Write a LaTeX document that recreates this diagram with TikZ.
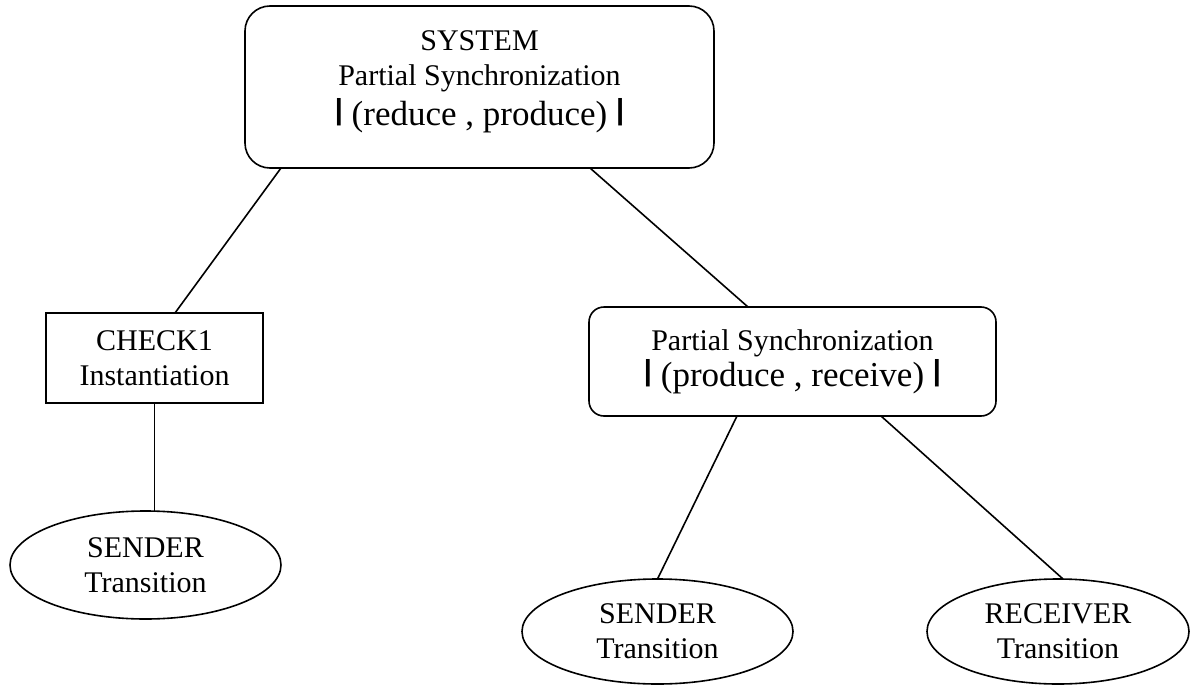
\documentclass[tikz,border=0pt]{standalone}
\usepackage{fontspec}
\setmainfont{Liberation Serif}
\newfontfamily\barfont{Liberation Sans}
\usetikzlibrary{shapes.geometric,calc}
\newcommand\mybar{\raisebox{6pt}{\barfont\bfseries\fontsize{29}{30}\selectfont|}}
\tikzset{
  base/.style={draw=black, line width=1.6pt, inner sep=0pt, outer sep=0pt, align=center,
    font=\fontsize{30}{35}\selectfont},
  rbox/.style={base, rectangle, rounded corners=#1},
  sqbox/.style={base, rectangle},
  ell/.style={base, ellipse},
  conn/.style={draw=black, line width=1.6pt}
}
\begin{document}
\begin{tikzpicture}[x=1pt,y=-1pt]
\useasboundingbox (0,0) rectangle (1191,685);
\node[rbox=25pt, minimum width=469pt, minimum height=162pt] (sys) at (479.5,87)
  {SYSTEM\\Partial Synchronization\\[5pt]{\fontsize{35}{40}\selectfont\mybar\ (reduce , produce)\ \mybar\rule[-18pt]{0pt}{1pt}}};
\node[sqbox, minimum width=217pt, minimum height=90pt] (check) at (154.5,358)
  {CHECK1\\Instantiation};
\node[rbox=15pt, minimum width=407pt, minimum height=109pt] (ps) at (792.5,361.5)
  {Partial Synchronization\\[1pt]{\fontsize{35}{40}\selectfont\mybar\ (produce , receive)\ \mybar}};
\node[ell, minimum width=271pt, minimum height=108pt] (s1) at (145.5,565)
  {SENDER\\Transition};
\node[ell, minimum width=271pt, minimum height=105pt] (s2) at (657.5,631.5)
  {SENDER\\Transition};
\node[ell, minimum width=262pt, minimum height=105pt] (r) at (1058,631.5)
  {RECEIVER\\Transition};
\draw[conn] ($(sys.south west)+(36,0)$) -- ($(check.north west)+(129,0)$);
\draw[conn] ($(sys.south west)+(345,0)$) -- ($(ps.north west)+(159,0)$);
\draw[conn] (check.south) -- (check.south |- s1.north);
\draw[conn] ($(ps.south west)+(148,0)$) -- (s2.north);
\draw[conn] ($(ps.south west)+(292,0)$) -- ($(r.north)+(5,0)$);
\end{tikzpicture}
\end{document}
